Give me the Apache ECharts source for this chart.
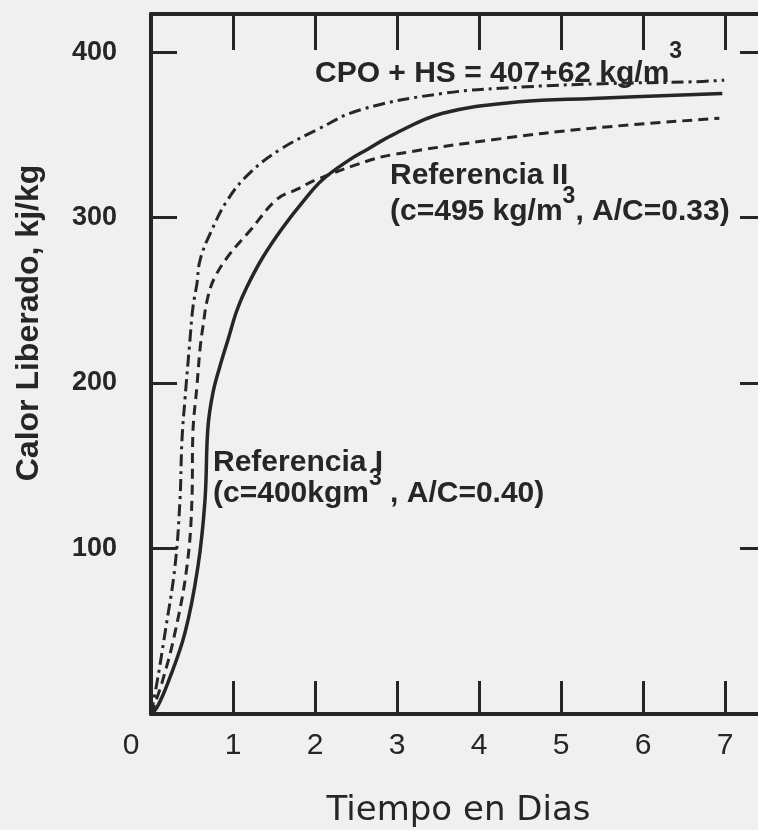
<!DOCTYPE html>
<html>
<head>
<meta charset="utf-8">
<script src="https://cdn.jsdelivr.net/npm/echarts@6/dist/echarts.min.js"></script>
<style>
  html, body { margin: 0; padding: 0; background: #f0f0f0; }
  #chart { width: 758px; height: 830px; }
</style>
</head>
<body>
<div id="chart"></div>
<script>
// curva CPO + HS (raya-punto)
const diasCPO = [0, 0.073, 0.171, 0.292, 0.353, 0.377, 0.414, 0.475, 0.512, 0.560, 0.597, 0.719, 0.938, 1.206, 1.571, 2.022, 2.546, 3.557, 4.58, 5.59, 6.60, 6.99];
const calorCPO = [0, 19, 49, 89, 129, 165, 190, 226, 246, 260, 274, 290, 311, 327, 341, 353, 365, 375, 379, 381, 382, 383];

// Referencia II (rayas)
const diasRef2 = [0, 0.134, 0.292, 0.438, 0.499, 0.511, 0.560, 0.597, 0.633, 0.694, 0.779, 0.962, 1.206, 1.535, 1.778, 2.022, 2.631, 2.948, 4.166, 5.384, 6.931];
const calorRef2 = [0, 19, 49, 89, 129, 170, 198, 220, 234, 252, 264, 278, 292, 311, 317, 323, 334, 338, 347, 354, 360];

// Referencia I (continua)
const diasRef1 = [0, 0.073, 0.207, 0.414, 0.572, 0.658, 0.694, 0.755, 0.840, 0.938, 1.048, 1.169, 1.364, 1.608, 1.876, 2.095, 2.424, 2.631, 2.948, 3.557, 4.494, 5.384, 6.967];
const calorRef1 = [0, 4, 19, 49, 89, 129, 173, 194, 210, 226, 244, 258, 276, 294, 311, 323, 335, 341, 350, 363, 370, 372, 375];

const ink = '#262626';
const fuente = 'Liberation Sans, Arial, sans-serif';

function pares(xs, ys) {
    return xs.map((x, i) => [x, ys[i]]);
}

const chart = echarts.init(document.getElementById('chart'));

// texto con superindice "3": L = alto de linea del texto base (baja el texto respecto al "3")
function richSup(L) {
    return {
        a: { fontSize: 30, fontWeight: 'bold', fontFamily: fuente, color: ink, lineHeight: L },
        s: { fontSize: 23, fontWeight: 'bold', fontFamily: fuente, color: ink, lineHeight: 23, verticalAlign: 'top' }
    };
}
const plano = { fontSize: 30, fontWeight: 'bold', fontFamily: fuente, color: ink, lineHeight: 30 };

const ejeComun = {
    axisLine: { onZero: false, lineStyle: { color: ink, width: 4 } },
    splitLine: { show: false }
};

let option = {
    backgroundColor: '#f0f0f0',
    animation: false,
    title: [
        { text: '{a|CPO + HS = 407+62 kg/m}{s|3}', left: 315, top: 40, padding: 0, textStyle: { rich: richSup(68) } },
        { text: 'Referencia II', left: 390, top: 161, padding: 0, textStyle: plano },
        { text: '{a|(c=495 kg/m}{s|3}{a|, A/C=0.33)}', left: 390, top: 185, padding: 0, textStyle: { rich: richSup(53) } },
        { text: 'Referencia I', left: 213, top: 448, padding: 0, textStyle: plano },
        { text: '{a|(c=400kgm}{s|3}{a| , A/C=0.40)}', left: 213, top: 467, padding: 0, textStyle: { rich: richSup(53) } }
    ],
    grid: { left: 151, top: 14, width: 615, height: 700, outerBoundsMode: 'none', containLabel: false },
    xAxis: [
        Object.assign({}, ejeComun, {
            type: 'value', min: 0, max: 7.5, interval: 1,
            name: 'Tiempo en Dias', nameLocation: 'middle', nameGap: 80,
            nameTextStyle: { fontSize: 34, fontFamily: 'DejaVu Sans, sans-serif', color: ink },
            axisTick: { inside: true, length: 33, lineStyle: { color: ink, width: 3 } },
            axisLabel: {
                margin: 17, fontSize: 30, fontFamily: fuente, color: ink, showMaxLabel: false,
                formatter: v => v === 0 ? '{z|0}' : String(v),
                rich: { z: { fontSize: 30, fontFamily: fuente, color: ink, padding: [0, 40, 0, 0] } }
            }
        }),
        Object.assign({}, ejeComun, {
            type: 'value', min: 0, max: 7.5, interval: 1, position: 'top',
            axisTick: { inside: true, length: 36, lineStyle: { color: ink, width: 3 } },
            axisLabel: { show: false }
        })
    ],
    yAxis: [
        Object.assign({}, ejeComun, {
            type: 'value', min: 0, max: 423, interval: 100,
            name: 'Calor Liberado, kj/kg', nameLocation: 'middle', nameGap: 106,
            nameTextStyle: { fontSize: 32, fontWeight: 'bold', fontFamily: fuente, color: ink, padding: [0, 0, 0, 82] },
            axisTick: { inside: true, length: 26, lineStyle: { color: ink, width: 3 } },
            axisLabel: { margin: 34, fontSize: 27, fontWeight: 'bold', fontFamily: fuente, color: ink, showMinLabel: false, showMaxLabel: false }
        }),
        Object.assign({}, ejeComun, {
            type: 'value', min: 0, max: 423, interval: 100, position: 'right',
            axisTick: { inside: true, length: 26, lineStyle: { color: ink, width: 3 } },
            axisLabel: { show: false }
        })
    ],
    series: [
        {
            name: 'CPO + HS', type: 'line', smooth: 0.4, showSymbol: false,
            data: pares(diasCPO, calorCPO),
            lineStyle: { color: ink, width: 3, type: [12, 5, 3, 5] }
        },
        {
            name: 'Referencia II', type: 'line', smooth: 0.4, showSymbol: false,
            data: pares(diasRef2, calorRef2),
            lineStyle: { color: ink, width: 3, type: [10, 6] }
        },
        {
            name: 'Referencia I', type: 'line', smooth: 0.4, showSymbol: false,
            data: pares(diasRef1, calorRef1),
            lineStyle: { color: ink, width: 3.5, type: 'solid' }
        }
    ]
};

chart.setOption(option);
</script>
</body>
</html>
